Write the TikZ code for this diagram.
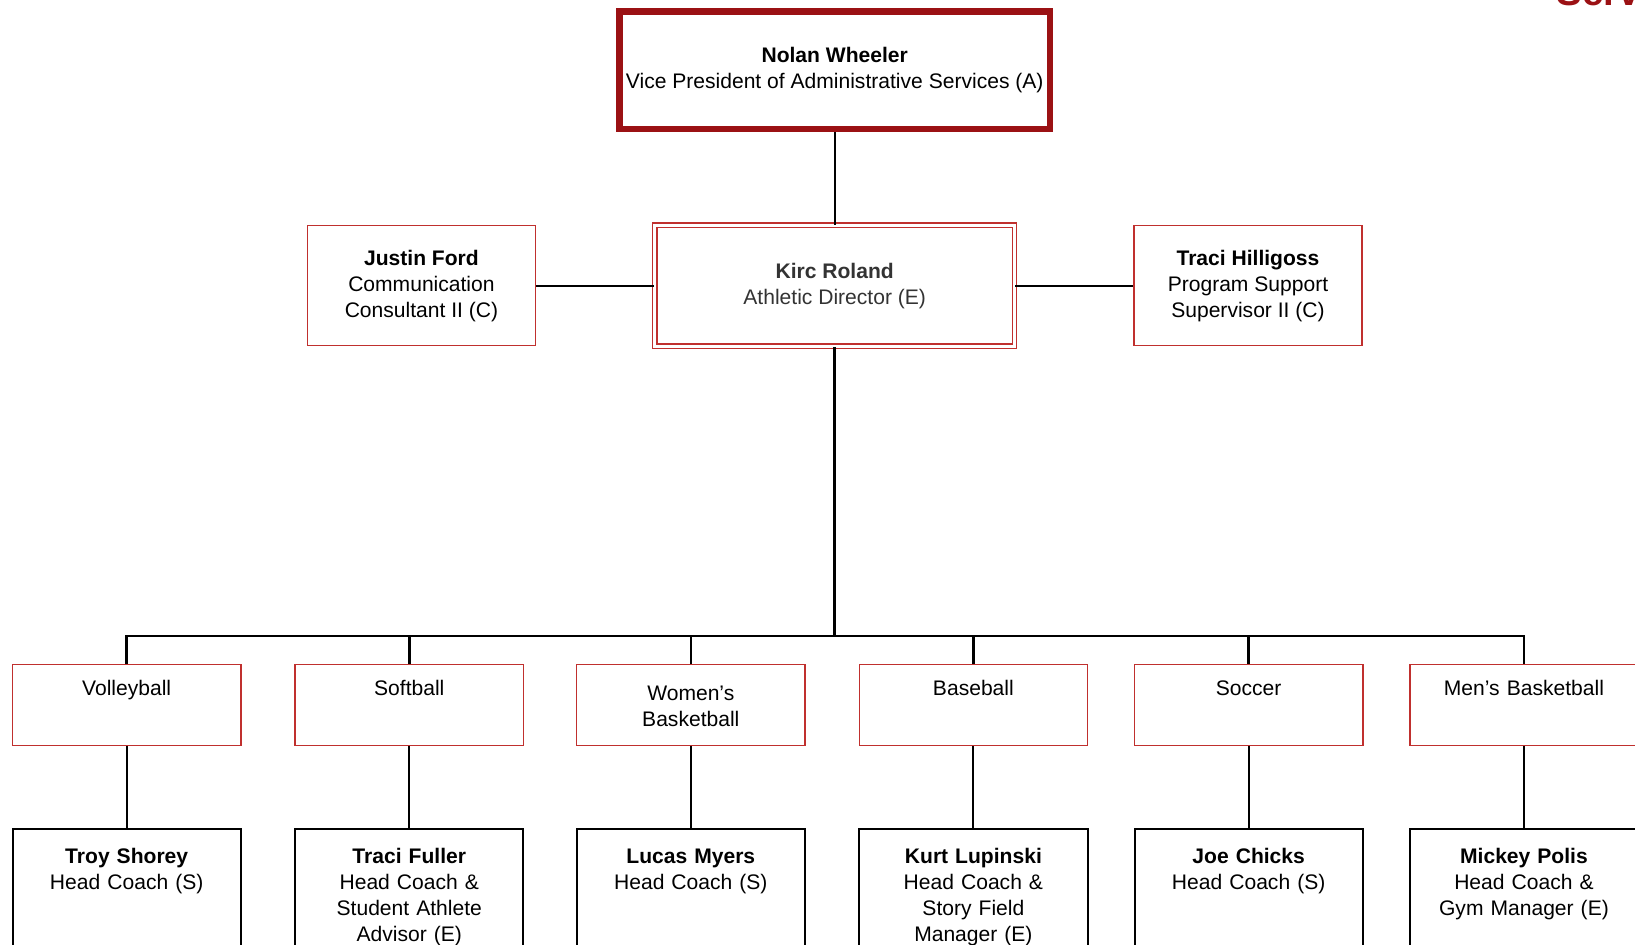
\documentclass[tikz,border=0pt]{standalone}
\usepackage{fontspec}
\setmainfont{Liberation Sans}
\usetikzlibrary{positioning}
\definecolor{darkred}{RGB}{155,17,20}
\definecolor{boxred}{RGB}{192,48,46}
\tikzset{every picture/.style={line width=1.1pt}}

\begin{document}
\begin{tikzpicture}[x=0.02cm,y=-0.02cm,node distance=1.56cm,align=center,
        font=\fontsize{11.5}{14.2}\selectfont,
        vp/.style={draw=darkred, line width=3.4pt, minimum width=8.26cm, minimum height=2.26cm, inner sep=0pt},
        director/.style={draw=boxred, double=white, line width=0.8pt, double distance=1.6pt, minimum width=6.9cm, minimum height=2.32cm, inner sep=0pt, text=black!80},
        staff/.style={draw=boxred, line width=0.8pt, minimum width=4.38cm, minimum height=2.3cm, inner sep=0pt},
        sport/.style={draw=boxred, line width=0.8pt, text width=4.38cm, inner sep=0pt, text height=0.6cm, text depth=0.96cm},
        coach/.style={draw=black, line width=1.1pt, text width=4.38cm, inner sep=0pt, text height=0.66cm, text depth=2.1cm}]
        \useasboundingbox (0,0) rectangle (1568,906);
        \clip (0,0) rectangle (1568,906);
        \node[anchor=base west, text=darkred, font=\bfseries\fontsize{21}{24}\selectfont] (title) at (1486,5) {Services};
        \node[vp] (nw) at (800.5,67.5) {\textbf{Nolan Wheeler}\\Vice President of Administrative Services (A)};
        \node[director] (kr) at (800.5,274) {\textbf{Kirc Roland}\\Athletic Director (E)};
        \node[staff,left=2.26cm of kr] (jf) {\textbf{Justin Ford}\\Communication\\Consultant II (C)};
        \node[staff,right=2.26cm of kr] (th) {\textbf{Traci Hilligoss}\\Program Support\\Supervisor II (C)};
        \coordinate (bus) at (800.5,610);
        % sports
        \node[sport] (vb) at (121.5,676) {Volleyball};
        \node[sport] (sb) at (392.5,676) {Softball};
        \node[sport, text height=0.7cm, text depth=0.86cm] (wb) at (662.5,676) {Women's\\Basketball};
        \node[sport] (bb) at (933.5,676) {Baseball};
        \node[sport] (sc) at (1197.5,676) {Soccer};
        \node[sport] (mb) at (1461.5,676) {Men's Basketball};
        % coaches
        \node[coach,below=of vb] (ts) {\textbf{Troy Shorey}\\Head Coach (S)};
        \node[coach,below=of sb] (tf) {\textbf{Traci Fuller}\\Head Coach \&\\Student Athlete\\Advisor (E)};
        \node[coach,below=of wb] (lm) {\textbf{Lucas Myers}\\Head Coach (S)};
        \node[coach,below=of bb] (kl) {\textbf{Kurt Lupinski}\\Head Coach \&\\Story Field\\Manager (E)};
        \node[coach,below=of sc] (jc) {\textbf{Joe Chicks}\\Head Coach (S)};
        \node[coach,below=of mb] (mp) {\textbf{Mickey Polis}\\Head Coach \&\\Gym Manager (E)};
        \draw
            (nw) -- (kr)
            (jf) -- (kr)
            (kr) -- (th);
        \draw[line width=1.7pt] (kr) -- (bus);
        \draw[line width=1.4pt]
            (vb.north) |- (bus)
            (sb.north) |- (bus)
            (wb.north) |- (bus)
            (bb.north) |- (bus)
            (sc.north) |- (bus)
            (mb.north) |- (bus);
        \draw
            (vb) -- (ts)
            (sb) -- (tf)
            (wb) -- (lm)
            (bb) -- (kl)
            (sc) -- (jc)
            (mb) -- (mp);
    \end{tikzpicture}
\end{document}
